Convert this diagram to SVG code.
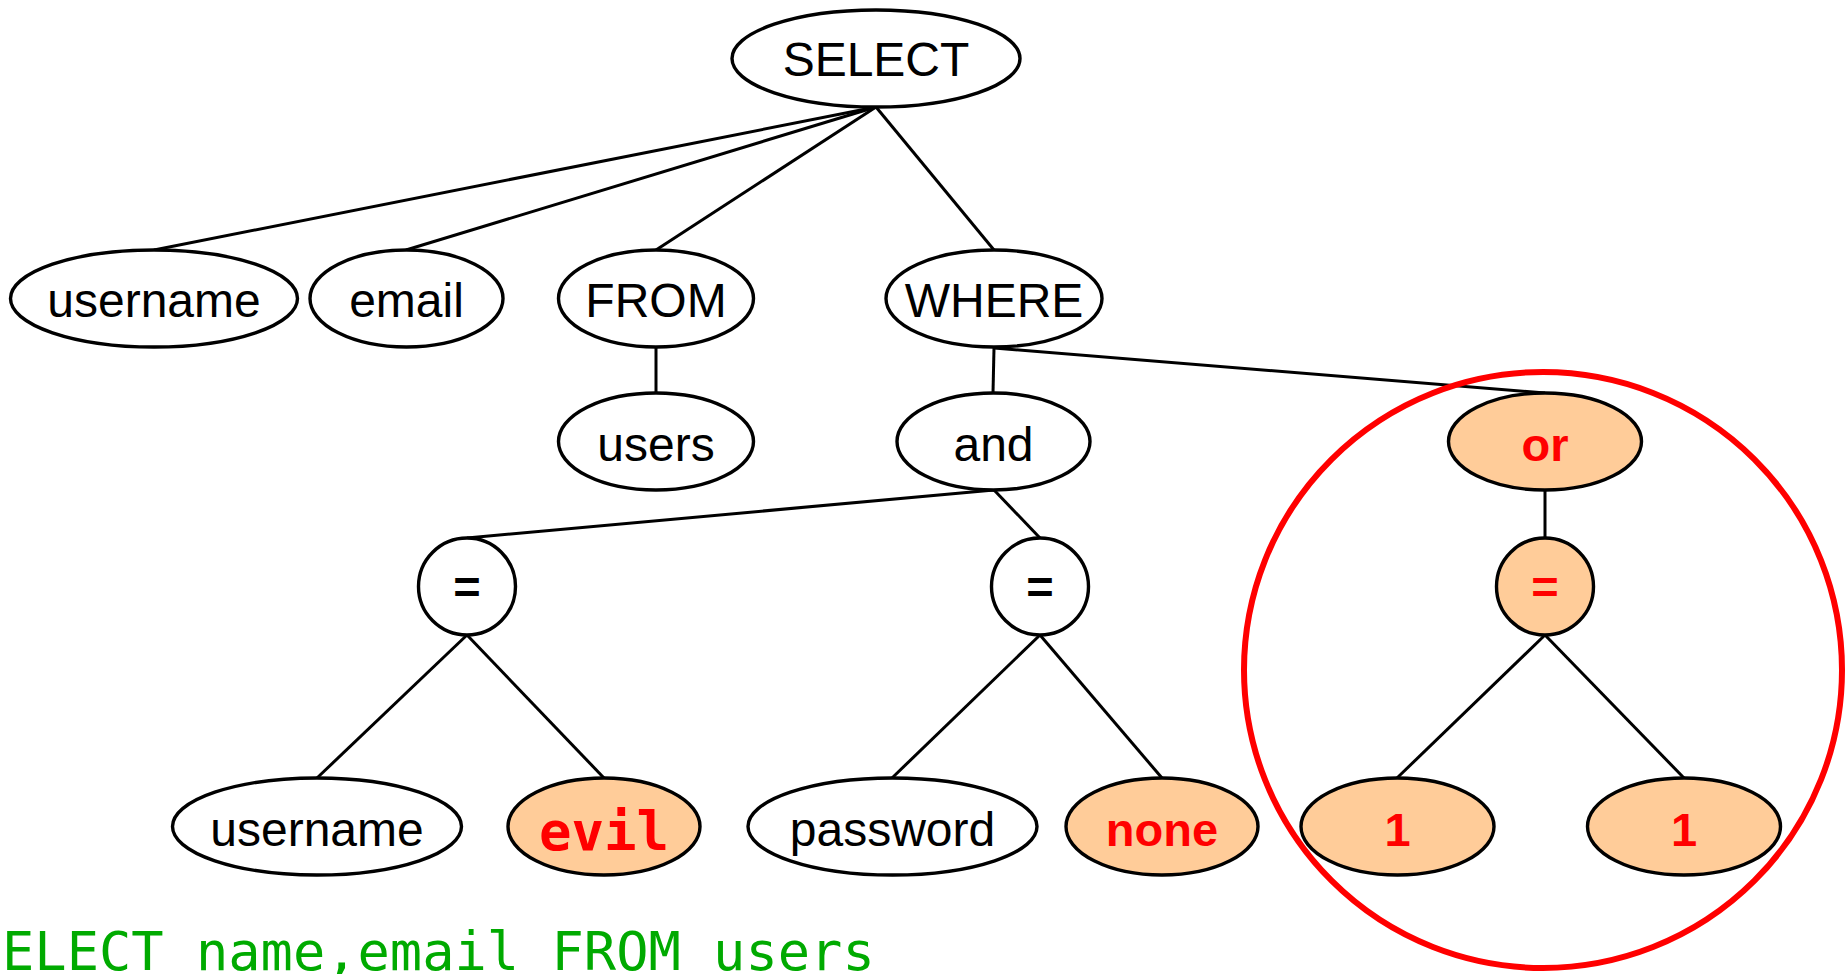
<svg xmlns="http://www.w3.org/2000/svg" width="1845" height="974" viewBox="0 0 1845 974">
  <style>
    .node { fill: #ffffff; stroke: #000000; stroke-width: 3.4; }
    .hot { fill: #ffcc99; stroke: #000000; stroke-width: 3.4; }
    .lbl { font-family: "Liberation Sans", Arial, sans-serif; font-size: 48px; fill: #000000; text-anchor: middle; }
    .red { font-family: "Liberation Sans", Arial, sans-serif; font-size: 47px; font-weight: bold; fill: #ff0000; text-anchor: middle; }
    .redmono { font-family: "DejaVu Sans Mono", monospace; font-size: 54px; font-weight: bold; fill: #ff0000; text-anchor: middle; }
    .edge { stroke: #000000; stroke-width: 3; fill: none; }
    .code { font-family: "DejaVu Sans Mono", monospace; font-size: 53.7px; fill: #00aa00; }
  </style>

  <rect x="0" y="0" width="1845" height="974" fill="#ffffff"/>

  <!-- tree edges -->
  <g id="connectors">
    <line class="edge" x1="876" y1="107" x2="154" y2="250"/>
    <line class="edge" x1="876" y1="107" x2="406" y2="250"/>
    <line class="edge" x1="876" y1="107" x2="656" y2="250"/>
    <line class="edge" x1="876" y1="107" x2="994" y2="250"/>
    <line class="edge" x1="656" y1="348" x2="656" y2="393"/>
    <line class="edge" x1="994" y1="348" x2="993" y2="393"/>
    <line class="edge" x1="994" y1="348" x2="1545" y2="393"/>
    <line class="edge" x1="994" y1="490" x2="467" y2="538"/>
    <line class="edge" x1="994" y1="490" x2="1040" y2="538"/>
    <line class="edge" x1="1545" y1="490" x2="1545" y2="538"/>
    <line class="edge" x1="467" y1="635" x2="317" y2="778"/>
    <line class="edge" x1="467" y1="635" x2="604" y2="778"/>
    <line class="edge" x1="1040" y1="635" x2="892" y2="778"/>
    <line class="edge" x1="1040" y1="635" x2="1162" y2="778"/>
    <line class="edge" x1="1545" y1="635" x2="1397" y2="778"/>
    <line class="edge" x1="1545" y1="635" x2="1684" y2="778"/>
  </g>

  <g id="n-select">
    <ellipse class="node" cx="876" cy="58.5" rx="144" ry="48.5"/>
    <text class="lbl" x="876" y="76">SELECT</text>
  </g>

  <g id="n-username">
    <ellipse class="node" cx="154" cy="298.5" rx="143.5" ry="48.5"/>
    <text class="lbl" x="154" y="316.5">username</text>
  </g>
  <g id="n-email">
    <ellipse class="node" cx="406.5" cy="298.5" rx="96.5" ry="48.5"/>
    <text class="lbl" x="406.5" y="316.5">email</text>
  </g>
  <g id="n-from">
    <ellipse class="node" cx="656" cy="298.5" rx="97.5" ry="48.5"/>
    <text class="lbl" x="656" y="316.5">FROM</text>
  </g>
  <g id="n-where">
    <ellipse class="node" cx="994" cy="298.5" rx="108" ry="48.5"/>
    <text class="lbl" x="994" y="316.5">WHERE</text>
  </g>

  <g id="n-users">
    <ellipse class="node" cx="656" cy="441.5" rx="97.5" ry="48.5"/>
    <text class="lbl" x="656" y="461">users</text>
  </g>
  <g id="n-and">
    <ellipse class="node" cx="993.5" cy="441.5" rx="96.5" ry="48.5"/>
    <text class="lbl" x="993.5" y="461">and</text>
  </g>
  <g id="n-or">
    <ellipse class="hot" cx="1545" cy="441.5" rx="96.5" ry="48.5"/>
    <text class="red" x="1545" y="460.5">or</text>
  </g>

  <g id="n-eq1">
    <ellipse class="node" cx="467" cy="586.5" rx="48.5" ry="48.5"/>
    <text class="red" x="467" y="603" style="fill:#000000">=</text>
  </g>
  <g id="n-eq2">
    <ellipse class="node" cx="1040" cy="586.5" rx="48.5" ry="48.5"/>
    <text class="red" x="1040" y="603" style="fill:#000000">=</text>
  </g>
  <g id="n-eq3">
    <ellipse class="hot" cx="1545" cy="586.5" rx="48.5" ry="48.5"/>
    <text class="red" x="1545" y="603">=</text>
  </g>

  <g id="n-username2">
    <ellipse class="node" cx="317" cy="826.5" rx="144.5" ry="48.5"/>
    <text class="lbl" x="317" y="846">username</text>
  </g>
  <g id="n-evil">
    <ellipse class="hot" cx="604" cy="826.5" rx="96" ry="48.5"/>
    <text class="redmono" x="604" y="850">evil</text>
  </g>
  <g id="n-password">
    <ellipse class="node" cx="892.5" cy="826.5" rx="144.5" ry="48.5"/>
    <text class="lbl" x="892.5" y="846">password</text>
  </g>
  <g id="n-none">
    <ellipse class="hot" cx="1162" cy="826.5" rx="96" ry="48.5"/>
    <text class="red" x="1162" y="846">none</text>
  </g>
  <g id="n-one-a">
    <ellipse class="hot" cx="1397.5" cy="826.5" rx="96.5" ry="48.5"/>
    <text class="red" x="1397.5" y="846">1</text>
  </g>
  <g id="n-one-b">
    <ellipse class="hot" cx="1684" cy="826.5" rx="96.5" ry="48.5"/>
    <text class="red" x="1684" y="846">1</text>
  </g>

  <!-- highlight around the injected "or 1=1" subtree -->
  <g id="highlight">
    <ellipse cx="1543" cy="670" rx="299" ry="298" fill="none" stroke="#ff0000" stroke-width="6"/>
  </g>

  <g id="query">
    <text class="code" x="2" y="970">ELECT name,email FROM users</text>
  </g>
</svg>
